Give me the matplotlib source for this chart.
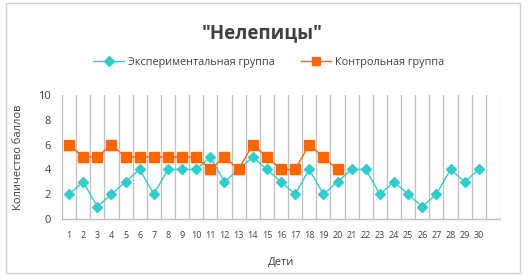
import matplotlib

matplotlib.use("Agg")

import matplotlib.pyplot as plt
from matplotlib.patches import Rectangle

children = list(range(1, 31))
experimental = [2, 3, 1, 2, 3, 4, 2, 4, 4, 4, 5, 3, 4, 5, 4,
                3, 2, 4, 2, 3, 4, 4, 2, 3, 2, 1, 2, 4, 3, 4]
control_children = list(range(1, 21))
control = [6, 5, 5, 6, 5, 5, 5, 5, 5, 5, 4, 5, 4, 6, 5, 4, 4, 6, 5, 4]
y_ticks = [0, 2, 4, 6, 8, 10]

CYAN = "#33CCCC"
ORANGE = "#FF6600"
GRID = "#BFBFBF"
TEXT = "#404040"

plt.rcParams["font.family"] = ["Open Sans", "DejaVu Sans"]

fig = plt.figure(figsize=(5.28, 2.76), dpi=100)
fig.patches.append(Rectangle((6 / 528, 3 / 276), 514 / 528, 270 / 276,
                             transform=fig.transFigure, fill=False,
                             edgecolor="#D0D0D0", linewidth=1.0))

ax = fig.add_axes([62 / 528, 57 / 276, 438 / 528, 124 / 276])
ax.set_xlim(0.5, 31.5)
ax.set_ylim(0, 10)

for x in range(0, 32):
    ax.axvline(x + 0.5, color=GRID, linewidth=0.9, zorder=0)

ax.plot(children, experimental, color=CYAN, linewidth=1.0, marker="D",
        markersize=5.5, markerfacecolor=CYAN, markeredgecolor=CYAN,
        label="Экспериментальная группа", zorder=3)
ax.plot(control_children, control, color=ORANGE, linewidth=1.0, marker="s",
        markersize=7, markerfacecolor=ORANGE, markeredgecolor=ORANGE,
        label="Контрольная группа", zorder=4)

for side in ("left", "right", "top"):
    ax.spines[side].set_visible(False)
ax.spines["bottom"].set_color(GRID)
ax.spines["bottom"].set_linewidth(1.0)

ax.set_xticks(children)
ax.set_xticklabels([str(c) for c in children], fontsize=6.5, color=TEXT)
ax.set_yticks(y_ticks)
ax.set_yticklabels([str(t) for t in y_ticks], fontsize=8, color=TEXT)
ax.tick_params(axis="both", length=0)
ax.tick_params(axis="x", pad=9)
ax.tick_params(axis="y", pad=8)

ax.set_xlabel("Дети", fontsize=8, color=TEXT, labelpad=12)
ax.set_ylabel("Количество баллов", fontsize=8, color=TEXT, labelpad=10)

fig.text(0.5 - 2 / 528, 1 - 33 / 276, '"Нелепицы"', ha="center", va="center",
         fontsize=13.5, fontweight="bold", color=TEXT)

fig.legend(loc="center", bbox_to_anchor=(0.5 + 5 / 528, 1 - 62 / 276), ncol=2,
           frameon=False, fontsize=7.8, labelcolor=TEXT, handlelength=2.8,
           handletextpad=0.4, columnspacing=2.4, markerscale=0.85)

fig.savefig("out.png", dpi=100)
